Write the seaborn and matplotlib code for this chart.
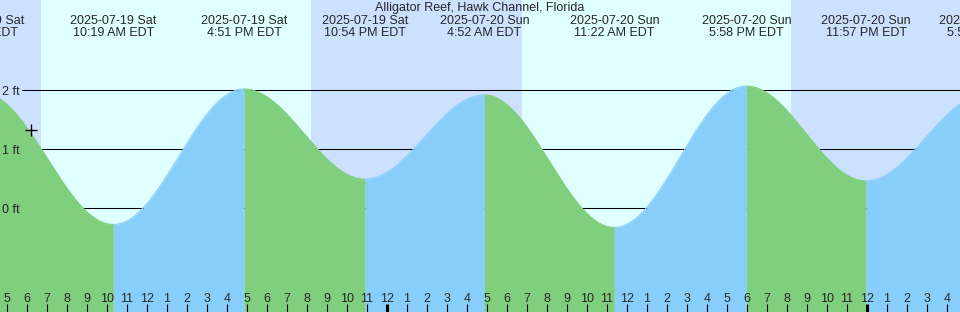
import numpy as np
import pandas as pd
import matplotlib
matplotlib.use("Agg")
import matplotlib.pyplot as plt
import matplotlib.transforms as mtrans
import seaborn as sns

# ---------------------------------------------------------------
# DATA  (hours counted from 2025-07-19 00:00 EDT)
# ---------------------------------------------------------------
event_hours  = [3.72, 10.317, 16.85, 22.90, 28.867, 35.367, 41.967, 47.95, 53.867]
event_levels = [1.96, -0.28, 2.02, 0.49, 1.92, -0.33, 2.07, 0.46, 1.91]   # ft
event_dates  = ["2025-07-19 Sat", "2025-07-19 Sat", "2025-07-19 Sat", "2025-07-19 Sat",
                "2025-07-20 Sun", "2025-07-20 Sun", "2025-07-20 Sun", "2025-07-20 Sun",
                "2025-07-21 Mon"]
event_clock  = ["3:43 AM EDT", "10:19 AM EDT", "4:51 PM EDT", "10:54 PM EDT",
                "4:52 AM EDT", "11:22 AM EDT", "5:58 PM EDT", "11:57 PM EDT",
                "5:52 AM EDT"]

sun_hours    = [6.72, 20.22, 30.77, 44.22]     # sunrise, sunset, sunrise, sunset
hour_ticks   = list(range(5, 53))
level_ticks  = [0, 1, 2]
now_hour, now_level = 6.175, 1.32

TITLE = "Alligator Reef, Hawk Channel, Florida"

# ---------------------------------------------------------------
# STYLE
# ---------------------------------------------------------------
sns.set_style("white")
plt.rcParams["font.family"] = ["Liberation Sans", "DejaVu Sans"]
plt.rcParams["font.size"] = 9

DAY, NIGHT = "#e0ffff", "#cce0ff"
EBB, FLOOD = "#7fcf7f", "#87cefa"

W, H = 960, 312
PX_MIDNIGHT = 387.0            # pixel x of 2025-07-20 00:00
PX_PER_HOUR = 20.0
ZERO_Y, PX_PER_FT = 208.0, 58.9

x0 = 24 + (0 - PX_MIDNIGHT) / PX_PER_HOUR
x1 = 24 + (W - PX_MIDNIGHT) / PX_PER_HOUR
y0 = (ZERO_Y - H) / PX_PER_FT
y1 = ZERO_Y / PX_PER_FT

fig = plt.figure(figsize=(W / 100, H / 100), dpi=100)
ax = fig.add_axes([0, 0, 1, 1])
ax.set_xlim(x0, x1)
ax.set_ylim(y0, y1)
ax.axis("off")

# day / night bands
edges = [x0 - 1] + sun_hours + [x1 + 1]
for i in range(len(edges) - 1):
    ax.axvspan(edges[i], edges[i + 1], color=NIGHT if i % 2 == 0 else DAY, lw=0, zorder=0)

# level reference lines (under the water)
for lv in level_ticks:
    ax.plot([x0 + 22 / PX_PER_HOUR, x1], [lv, lv], color="black", lw=0.75, zorder=1)

# tide curve between consecutive extrema
rows = []
for i in range(len(event_hours) - 1):
    ta, tb = event_hours[i], event_hours[i + 1]
    la, lb = event_levels[i], event_levels[i + 1]
    t = np.linspace(ta, tb, 200)
    lv = la + (lb - la) * (1 - np.cos(np.pi * (t - ta) / (tb - ta))) / 2
    phase = "flood" if lb > la else "ebb"
    ax.fill_between(t, y0, lv, color=FLOOD if phase == "flood" else EBB, lw=0, zorder=2)
    rows.append(pd.DataFrame({"hour": t, "level": lv, "phase": phase, "seg": i}))
curve = pd.concat(rows, ignore_index=True)

sns.lineplot(data=curve, x="hour", y="level", hue="phase", units="seg", estimator=None,
             palette={"ebb": EBB, "flood": FLOOD}, lw=0.8, legend=False, ax=ax, zorder=3)

# current-time marker
sns.scatterplot(x=[now_hour], y=[now_level], marker="+", s=80, color="black",
                linewidth=1.0, ax=ax, zorder=5)

# level labels (nudged down ~2 px)
for lv in level_ticks:
    ax.text(x0 + 2 / PX_PER_HOUR, lv - 2 / PX_PER_FT, f"{lv} ft", ha="left", va="center", zorder=6)

# header
trans = mtrans.blended_transform_factory(ax.transData, ax.transAxes)
fig.text(0.5, 1 - 8.5 / H, TITLE, ha="center", va="center")
for h, d, c in zip(event_hours, event_dates, event_clock):
    ax.text(h, 1 - 21 / H, d, ha="center", va="center", transform=trans, zorder=6)
    ax.text(h, 1 - 33 / H, c, ha="center", va="center", transform=trans, zorder=6)

# hour axis at the bottom
for h in hour_ticks:
    lab = (h - 1) % 12 + 1
    midnight = h % 24 == 0
    ax.plot([h, h], [0, 8.5 / H], color="black", lw=2.2 if midnight else 0.8,
            transform=trans, zorder=6, solid_capstyle="butt")
    ax.text(h, 1 - 299 / H, str(lab), ha="center", va="center", transform=trans, zorder=6)

fig.savefig("out.png", dpi=100)
